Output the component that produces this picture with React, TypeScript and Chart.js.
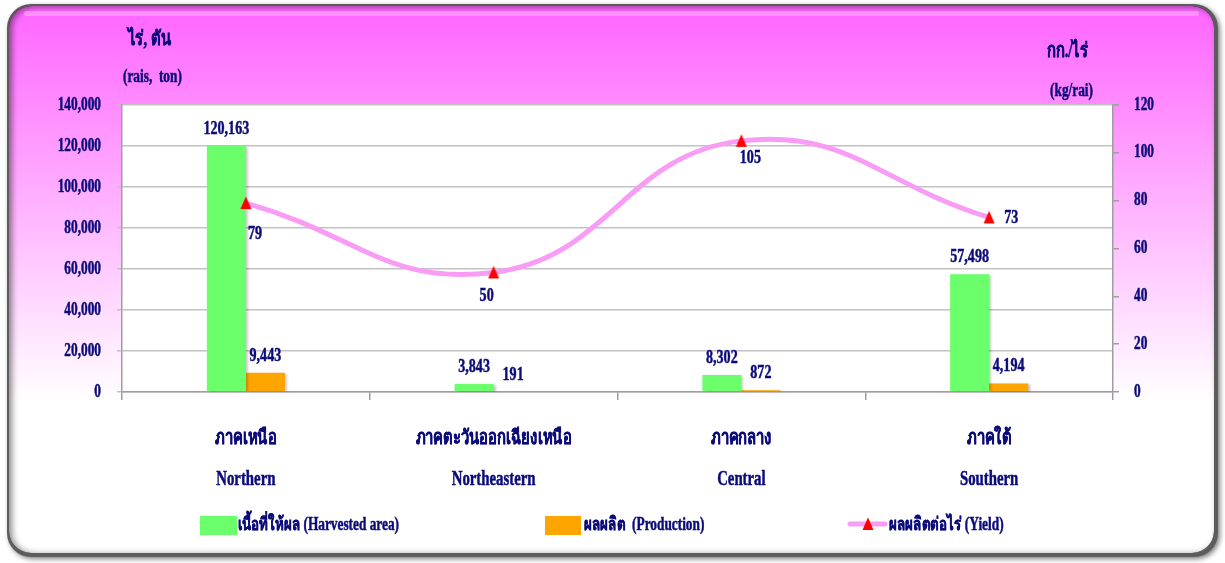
import React, { useEffect, useRef } from 'react';
import { Chart, registerables } from 'chart.js';

Chart.register(...registerables);

// ---------- data ----------
const regionsThai = ['ภาคเหนือ', 'ภาคตะวันออกเฉียงเหนือ', 'ภาคกลาง', 'ภาคใต้'];
const regionsEnglish = ['Northern', 'Northeastern', 'Central', 'Southern'];
const harvestedArea = [120163, 3843, 8302, 57498];
const production = [9443, 191, 872, 4194];
const yieldPerRai = [79, 50, 105, 73];
const leftAxisMax = 140000;
const leftAxisStep = 20000;
const rightAxisMax = 120;
const rightAxisStep = 20;
const seriesLabels = ['เนื้อที่ให้ผล (Harvested area)', 'ผลผลิต  (Production)', 'ผลผลิตต่อไร่ (Yield)'];
const leftAxisTitle = ['ไร่, ตัน', '(rais,  ton)'];
const rightAxisTitle = ['กก./ไร่', '(kg/rai)'];

// ---------- style ----------
const NAVY = '#0b0b7a';
const FONT = '"Liberation Serif", "Times New Roman", serif';
const SX = 0.74;
const GREEN = '#6cff6c';
const ORANGE = '#ffa500';
const PINK = '#f99cf6';
const RED = '#ff0000';
const yieldLabelPlacement = [
  { dx: 2, dy: 36, align: 'left' },
  { dx: -7, dy: 29, align: 'center' },
  { dx: 9, dy: 22, align: 'center' },
  { dx: 15, dy: 6, align: 'left' },
];
const legendX = [200, 545, 848];

function makeTriangle(): HTMLCanvasElement {
  const c = document.createElement('canvas');
  c.width = 12;
  c.height = 14;
  const g = c.getContext('2d')!;
  g.fillStyle = RED;
  g.beginPath();
  g.moveTo(6, 0.5);
  g.lineTo(11.5, 13);
  g.lineTo(0.5, 13);
  g.closePath();
  g.fill();
  return c;
}

function drawText(
  ctx: CanvasRenderingContext2D,
  text: string,
  x: number,
  y: number,
  size: number,
  align: CanvasTextAlign = 'center',
  baseline: CanvasTextBaseline = 'alphabetic',
  sx: number = SX
) {
  ctx.save();
  ctx.font = `bold ${size}px ${FONT}`;
  ctx.fillStyle = NAVY;
  ctx.strokeStyle = NAVY;
  ctx.lineWidth = 0.5;
  ctx.textAlign = align;
  ctx.textBaseline = baseline;
  ctx.translate(x, y);
  ctx.scale(sx, 1);
  ctx.fillText(text, 0, 0);
  ctx.strokeText(text, 0, 0);
  ctx.restore();
}

function rr(ctx: CanvasRenderingContext2D, x: number, y: number, w: number, h: number, r: number) {
  ctx.moveTo(x + r, y);
  ctx.lineTo(x + w - r, y);
  ctx.arcTo(x + w, y, x + w, y + r, r);
  ctx.lineTo(x + w, y + h - r);
  ctx.arcTo(x + w, y + h, x + w - r, y + h, r);
  ctx.lineTo(x + r, y + h);
  ctx.arcTo(x, y + h, x, y + h - r, r);
  ctx.lineTo(x, y + r);
  ctx.arcTo(x, y, x + r, y, r);
  ctx.closePath();
}

const fmt = (v: number) => v.toLocaleString('en-US');

export default function App() {
  const ref = useRef<HTMLCanvasElement>(null);

  useEffect(() => {
    document.body.style.margin = '0';
    const canvas = ref.current!;
    const tri = makeTriangle();

    const decor = {
      id: 'decor',
      beforeDraw(chart: any) {
        const ctx: CanvasRenderingContext2D = chart.ctx;
        const W = chart.width;
        const H = chart.height;
        // outer frame
        ctx.save();
        ctx.shadowColor = 'rgba(0,0,0,0.5)';
        ctx.shadowBlur = 5;
        ctx.shadowOffsetX = 2;
        ctx.shadowOffsetY = 2;
        ctx.beginPath();
        rr(ctx, 7, 4, W - 14, H - 10, 24);
        ctx.fillStyle = '#5c5c5c';
        ctx.fill();
        ctx.restore();
        // inner gradient
        const grad = ctx.createLinearGradient(0, 10, 0, 400);
        grad.addColorStop(0, '#ff66ff');
        grad.addColorStop(1, '#ffffff');
        ctx.save();
        ctx.beginPath();
        rr(ctx, 9, 6, W - 20, H - 16, 22);
        ctx.fillStyle = grad;
        ctx.fill();
        ctx.clip();
        // inner shadow
        ctx.beginPath();
        ctx.rect(-50, -50, W + 100, H + 100);
        rr(ctx, 9, 6, W - 20, H - 16, 22);
        ctx.shadowColor = 'rgba(0,0,0,0.45)';
        ctx.shadowBlur = 6;
        ctx.shadowOffsetX = 3;
        ctx.shadowOffsetY = 1;
        ctx.fillStyle = '#000';
        ctx.fill('evenodd');
        ctx.restore();
        // top highlight
        ctx.save();
        ctx.beginPath();
        rr(ctx, 24, 11, W - 50, 5, 2.5);
        ctx.fillStyle = 'rgba(255,255,255,0.28)';
        ctx.fill();
        ctx.restore();
        // plot area
        const a = chart.chartArea;
        ctx.fillStyle = '#ffffff';
        ctx.fillRect(a.left, a.top, a.right - a.left, a.bottom - a.top);
      },
      beforeDatasetDraw(chart: any, args: any) {
        const ctx = chart.ctx;
        ctx.save();
        if (args.meta.type === 'bar') {
          ctx.shadowColor = 'rgba(0,0,0,0.28)';
          ctx.shadowBlur = 3;
          ctx.shadowOffsetX = 2;
          ctx.shadowOffsetY = 1;
        }
      },
      afterDatasetDraw(chart: any) {
        chart.ctx.restore();
      },
      afterDraw(chart: any) {
        const ctx: CanvasRenderingContext2D = chart.ctx;
        const ys = chart.scales.y;
        const y1 = chart.scales.y1;
        const xs = chart.scales.x;
        // y tick labels
        ys.ticks.forEach((t: any, i: number) => {
          drawText(ctx, fmt(t.value), ys.right - 21, ys.getPixelForTick(i), 18, 'right', 'middle');
        });
        y1.ticks.forEach((t: any, i: number) => {
          drawText(ctx, fmt(t.value), y1.left + 21, y1.getPixelForTick(i), 18, 'left', 'middle');
        });
        // x tick labels
        xs.ticks.forEach((t: any, i: number) => {
          const x = xs.getPixelForTick(i);
          const lab = chart.data.labels[i];
          drawText(ctx, lab[0], x, xs.top + 52, 20, 'center');
          drawText(ctx, lab[1], x, xs.top + 93, 20, 'center');
        });
        // axis titles
        drawText(ctx, leftAxisTitle[0], 128, 45, 20, 'left');
        drawText(ctx, leftAxisTitle[1], 123, 82, 18, 'left');
        drawText(ctx, rightAxisTitle[0], 1088, 57, 20, 'right');
        drawText(ctx, rightAxisTitle[1], 1093, 96, 18, 'right');
        // data labels: bars
        [0, 1].forEach((di) => {
          const meta = chart.getDatasetMeta(di);
          meta.data.forEach((el: any, i: number) => {
            drawText(ctx, fmt(chart.data.datasets[di].data[i]), el.x, el.y - 12, 19, 'center');
          });
        });
        // data labels: yield line
        const lm = chart.getDatasetMeta(2);
        lm.data.forEach((el: any, i: number) => {
          const p = yieldLabelPlacement[i];
          drawText(ctx, fmt(chart.data.datasets[2].data[i]), el.x + p.dx, el.y + p.dy, 19, p.align as CanvasTextAlign);
        });
        // legend
        const ly = 525;
        const ds = chart.data.datasets;
        ctx.fillStyle = ds[0].backgroundColor;
        ctx.fillRect(legendX[0], ly - 9, 37, 19);
        drawText(ctx, ds[0].label, legendX[0] + 38, ly + 5, 18, 'left');
        ctx.fillStyle = ds[1].backgroundColor;
        ctx.fillRect(legendX[1], ly - 9, 36, 19);
        drawText(ctx, ds[1].label, legendX[1] + 39, ly + 5, 18, 'left');
        ctx.save();
        ctx.strokeStyle = ds[2].borderColor;
        ctx.lineWidth = 5;
        ctx.lineCap = 'round';
        ctx.beginPath();
        ctx.moveTo(legendX[2] + 2, ly - 1);
        ctx.lineTo(legendX[2] + 37, ly - 1);
        ctx.stroke();
        ctx.restore();
        ctx.drawImage(tri, legendX[2] + 14, ly - 8);
        drawText(ctx, ds[2].label, legendX[2] + 41, ly + 5, 18, 'left');
      },
    };

    const chart = new Chart(canvas, {
      type: 'bar',
      data: {
        labels: regionsThai.map((t, i) => [t, regionsEnglish[i]]),
        datasets: [
          {
            type: 'bar',
            label: seriesLabels[0],
            data: harvestedArea,
            backgroundColor: GREEN,
            yAxisID: 'y',
            order: 1,
            categoryPercentage: 0.315,
            barPercentage: 1,
          },
          {
            type: 'bar',
            label: seriesLabels[1],
            data: production,
            backgroundColor: ORANGE,
            yAxisID: 'y',
            order: 1,
            categoryPercentage: 0.315,
            barPercentage: 1,
          },
          {
            type: 'line',
            label: seriesLabels[2],
            data: yieldPerRai,
            yAxisID: 'y1',
            borderColor: PINK,
            borderWidth: 5,
            tension: 0.45,
            pointStyle: tri,
            pointRadius: 7,
            pointBackgroundColor: RED,
            pointBorderColor: RED,
            order: 0,
          },
        ] as any,
      },
      options: {
        responsive: false,
        animation: false,
        layout: { padding: { top: 105, left: 0, right: 0, bottom: 0 } },
        plugins: { legend: { display: false }, tooltip: { enabled: false } },
        scales: {
          x: {
            grid: { offset: true, drawOnChartArea: false, drawTicks: true, tickLength: 8, color: '#9e9e9e', lineWidth: 1.5 },
            border: { color: '#9e9e9e', width: 1.5 },
            ticks: { display: false },
            afterFit: (s: any) => {
              s.height = 171;
            },
          },
          y: {
            position: 'left',
            min: 0,
            max: leftAxisMax,
            ticks: { stepSize: leftAxisStep, display: false },
            grid: { color: '#c2c2c2', tickLength: 5, lineWidth: 1.5 },
            border: { color: '#9e9e9e', width: 1.5 },
            afterFit: (s: any) => {
              s.width = 122;
            },
          },
          y1: {
            position: 'right',
            min: 0,
            max: rightAxisMax,
            ticks: { stepSize: rightAxisStep, display: false },
            grid: { drawOnChartArea: false, tickLength: 6, color: '#9e9e9e', lineWidth: 1.5 },
            border: { color: '#9e9e9e', width: 1.5 },
            afterFit: (s: any) => {
              s.width = 112;
            },
          },
        },
      } as any,
      plugins: [decor],
    });
    return () => chart.destroy();
  }, []);

  return <canvas ref={ref} width={1225} height={563} style={{ display: 'block', width: 1225, height: 563 }} />;
}
